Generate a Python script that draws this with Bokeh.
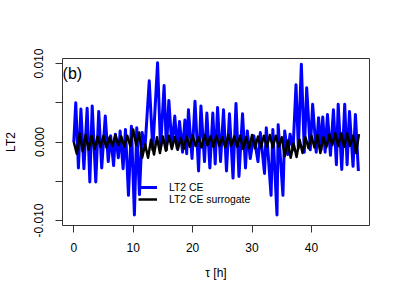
import numpy as np
from bokeh.plotting import figure
from bokeh.models import Range1d, FixedTicker, PrintfTickFormatter, Legend, LegendItem, Label
from bokeh.embed import file_html
from bokeh.resources import INLINE

# LT2 CE: turning points (lag in h, value in 1e-3)
ce_t = [0.0, 0.33, 0.78, 1.2, 1.7, 2.25, 2.7, 3.1, 3.7, 4.2, 4.7, 5.3, 5.8, 6.2, 6.7, 7.0, 7.5, 7.8,
        8.3, 8.7, 9.2, 9.7, 10.2, 10.6, 11.05, 11.5, 12.0, 12.7, 13.3, 14.1, 14.6, 15.2, 15.6, 16.0,
        16.5, 17.0, 17.4, 17.8, 18.3, 18.7, 19.0, 19.3, 19.9, 20.4, 21.0, 21.4, 22.0, 22.4, 22.9,
        23.4, 23.8, 24.2, 24.7, 25.2, 25.7, 26.2, 26.8, 27.3, 27.8, 28.4, 28.9, 29.2, 29.7, 30.3,
        31.0, 31.4, 32.1, 32.4, 33.2, 33.5, 34.2, 34.4, 35.2, 35.5, 36.0, 36.4, 36.9, 37.4, 37.8,
        38.3, 38.8, 39.2, 39.8, 40.2, 40.8, 41.2, 41.6, 41.9, 42.3, 42.7, 43.2, 43.7, 44.2, 44.5,
        45.1, 45.6, 46.0, 46.4, 47.0, 47.4, 47.9]
ce_v = [0.0, 5.0, -3.3, 4.2, -3.4, 4.3, -5.1, 4.6, -5.1, 3.9, -3.3, 3.3, -2.5, 0.8, -3.0, 1.0, -2.0, 1.4,
        -3.4, 1.6, -6.8, 2.0, -9.3, 1.8, -6.7, 1.2, -0.6, 7.8, -1.0, 10.1, -0.8, 7.2, -1.0, 5.3,
        -0.5, 3.3, -0.8, 2.6, -1.3, 2.8, -1.5, 4.1, -2.1, 5.2, -3.7, 4.6, -2.5, 3.7, -3.3,
        3.7, -2.8, 4.4, -2.5, 4.1, -3.7, 3.6, -4.6, 4.9, -4.4, 3.6, -3.3, 1.4, -2.1, 0.8,
        -2.5, 1.2, -4.0, 1.8, -6.8, 1.6, -9.3, 2.2, -6.8, 1.4, -1.6, 1.0, -1.0, 7.3, -0.8,
        9.9, -1.3, 6.9, -1.0, 4.8, -1.3, 3.1, -1.0, 3.2, -1.3, 3.5, -1.7, 4.1, -2.9, 4.8,
        -3.5, 4.8, -2.9, 3.9, -3.1, 3.5, -3.7]

# LT2 CE surrogate: values every 0.5 h from 0 to 48 (in 1e-3)
sur_v = [0, -1.5, 1.1, -1.2, 0.9, -1.0, 0.8, -0.9, 0.7, -0.6,
         0.8, -0.7, 0.6, -0.5, 0.9, -0.4, 0.7, -0.6, 0.8, -0.5,
         1.6, -0.4, 1.2, -2.0, -0.3, -2.0, 0.3, -1.6, 0.6, -1.4,
         0.7, -1.1, 0.8, -0.9, 0.6, -1.0, 0.5, -0.9, 0.7, -0.6,
         0.8, -0.5, 0.6, -0.7, 0.9, -0.4, 0.7, -0.6, 0.8, -0.5,
         0.6, -0.7, 0.9, -0.5, 0.7, -0.6, 0.8, -0.9, 0.6, -0.8,
         0.9, -0.8, 0.7, -0.7, 0.8, -0.6, 0.9, -0.7, 0.8, -0.6,
         0.6, -1.8, 0.2, -2.0, -0.2, -1.9, 0.3, -1.4, 0.6, -0.8,
         0.8, -0.7, 0.9, -1.4, 0.6, -0.7, 1.0, -0.4, 1.1, -0.5,
         1.1, -0.6, 1.1, -0.5, 0.8, -1.4,
         1.0]
sur_t = list(np.arange(len(sur_v)) * 0.5)

x_ticks = [0, 10, 20, 30, 40]
y_ticks = [-0.01, 0.0, 0.01]
y_minor = [-0.005, 0.005]

FONT = "Liberation Sans"

p = figure(width=384, height=284, output_backend="svg", toolbar_location=None,
           x_range=Range1d(-1.9, 49.77), y_range=Range1d(-0.01064, 0.01064),
           min_border_left=59, min_border_right=15, min_border_top=58, min_border_bottom=59)
p.xgrid.visible = False
p.ygrid.visible = False
p.outline_line_color = "#333333"
p.outline_line_width = 1
p.background_fill_color = "white"
p.border_fill_color = "white"

r1 = p.line(ce_t, np.array(ce_v) * 1e-3, line_color="#0000FF", line_width=3, line_join="round")
r2 = p.line(sur_t, np.array(sur_v) * 1e-3, line_color="black", line_width=2.5, line_join="round")

for ax in (p.xaxis[0], p.yaxis[0]):
    ax.axis_line_color = None
    ax.major_tick_out = 7
    ax.major_tick_in = 0
    ax.major_tick_line_color = "#333333"
    ax.major_label_text_font = FONT
    ax.major_label_text_font_size = "12px"
    ax.major_label_text_color = "black"
    ax.axis_label_text_font = FONT
    ax.axis_label_text_font_size = "12px"
    ax.axis_label_text_font_style = "normal"
    ax.axis_label_text_color = "black"

p.xaxis[0].ticker = FixedTicker(ticks=x_ticks)
p.xaxis[0].minor_tick_out = 0
p.xaxis[0].major_label_standoff = 10
p.xaxis[0].axis_label = "τ [h]"
p.xaxis[0].axis_label_standoff = 11

p.yaxis[0].ticker = FixedTicker(ticks=y_ticks, minor_ticks=y_minor)
p.yaxis[0].minor_tick_out = 7
p.yaxis[0].minor_tick_in = 0
p.yaxis[0].minor_tick_line_color = "#333333"
p.yaxis[0].formatter = PrintfTickFormatter(format="%.3f")
p.yaxis[0].major_label_orientation = "vertical"
p.yaxis[0].major_label_standoff = 12
p.yaxis[0].axis_label = "LT2"
p.yaxis[0].axis_label_standoff = 14

legend = Legend(items=[LegendItem(label="LT2 CE", renderers=[r1]),
                       LegendItem(label="LT2 CE surrogate", renderers=[r2])],
                location=(76, 20), border_line_color=None, background_fill_alpha=0,
                padding=0, margin=0, spacing=0, glyph_width=19, glyph_height=12,
                label_height=12, label_standoff=12, label_text_font=FONT,
                label_text_font_size="10.4px", label_text_color="black")
p.add_layout(legend)

p.add_layout(Label(x=-1.88, y=0.00877, text="(b)", text_font=FONT, text_font_size="16px",
                   text_baseline="middle", text_align="left", text_color="black"))

open("out.html", "w").write(file_html(p, INLINE))
